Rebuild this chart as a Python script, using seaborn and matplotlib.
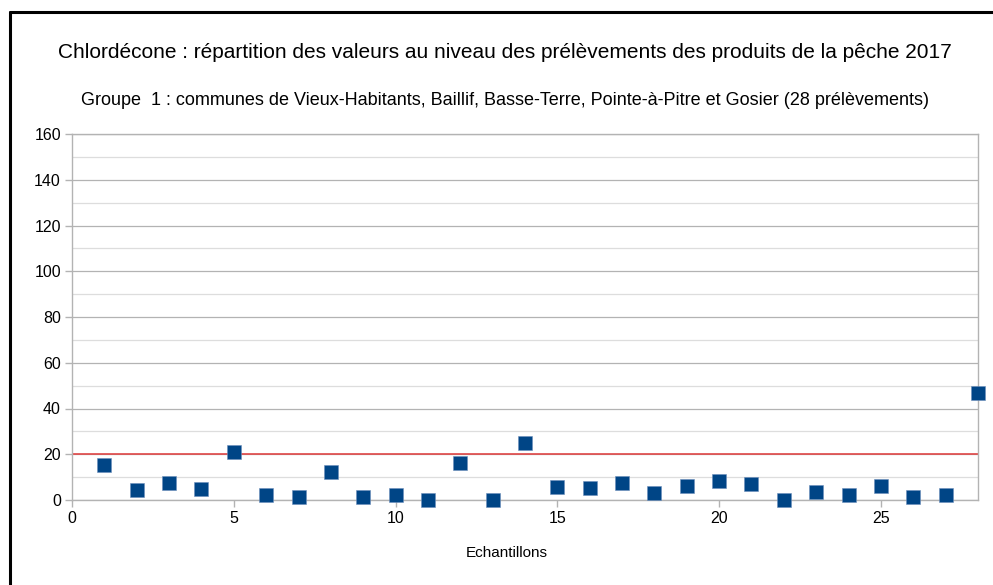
import numpy as np
import pandas as pd
import seaborn as sns
from matplotlib import pyplot as plt
from matplotlib.lines import Line2D
from matplotlib.ticker import MultipleLocator

# Données
echantillons = list(range(1, 29))
valeurs = [15.2, 4.4, 7.3, 4.7, 21.1, 2.0, 1.5, 12.1, 1.5, 2.3,
           0.0, 16.2, 0.0, 25.0, 5.8, 5.1, 7.6, 3.2, 6.3, 8.4,
           7.0, 0.0, 3.4, 2.2, 6.0, 1.3, 2.2, 46.9]
seuil = 20

titre = "Chlordécone : répartition des valeurs au niveau des prélèvements des produits de la pêche 2017"
sous_titre = "Groupe  1 : communes de Vieux-Habitants, Baillif, Basse-Terre, Pointe-à-Pitre et Gosier (28 prélèvements)"
label_x = "Echantillons"

df = pd.DataFrame({'echantillon': echantillons, 'valeur': valeurs})

sns.set_theme(style="white")
plt.rcParams['font.family'] = ['Liberation Sans', 'DejaVu Sans']

W, H = 993, 585
fig = plt.figure(figsize=(W / 100, H / 100), dpi=100)
ax = fig.add_axes([72 / W, 1 - 500 / H, (978 - 72) / W, (500 - 134) / H])

ax.set_xlim(0, 28)
ax.set_ylim(0, 160)
ax.yaxis.set_major_locator(MultipleLocator(20))
ax.yaxis.set_minor_locator(MultipleLocator(10))
ax.xaxis.set_major_locator(MultipleLocator(5))
ax.grid(which='major', axis='y', color='#b3b3b3', linewidth=0.9)
ax.grid(which='minor', axis='y', color='#dddddd', linewidth=0.9)
ax.set_axisbelow(True)

ax.axhline(seuil, color='#e04848', linewidth=1.2, zorder=2)

sns.scatterplot(data=df, x='echantillon', y='valeur', marker='s', s=95,
                color='#004586', edgecolor='#6d8fbb', linewidth=0.4,
                ax=ax, zorder=3, clip_on=False)

for sp in ax.spines.values():
    sp.set_color('#b3b3b3')
    sp.set_linewidth(1.0)

ax.tick_params(axis='both', which='major', length=5, width=1.0, color='#b3b3b3',
               labelsize=11.5, labelcolor='#000000', pad=3, direction='out')
ax.tick_params(axis='y', which='minor', length=0)
ax.tick_params(axis='x', bottom=True)
ax.tick_params(axis='y', left=True)
ax.set_xlabel('')
ax.set_ylabel('')

fig.text(505 / W, 1 - 52 / H, titre, ha='center', va='center', fontsize=15, color='#000000')
fig.text(505 / W, 1 - 100 / H, sous_titre, ha='center', va='center', fontsize=13, color='#000000')
fig.text(507 / W, 1 - 553 / H, label_x, ha='center', va='center', fontsize=11, color='#000000')

# cadre noir (bords gauche et haut visibles)
fig.add_artist(Line2D([10 / W, 10 / W], [0, 1 - 12 / H], color='black', linewidth=2.2,
                      transform=fig.transFigure))
fig.add_artist(Line2D([10 / W, 1], [1 - 12 / H, 1 - 12 / H], color='black', linewidth=2.2,
                      transform=fig.transFigure))

fig.savefig('out.png', dpi=100, facecolor='white')
